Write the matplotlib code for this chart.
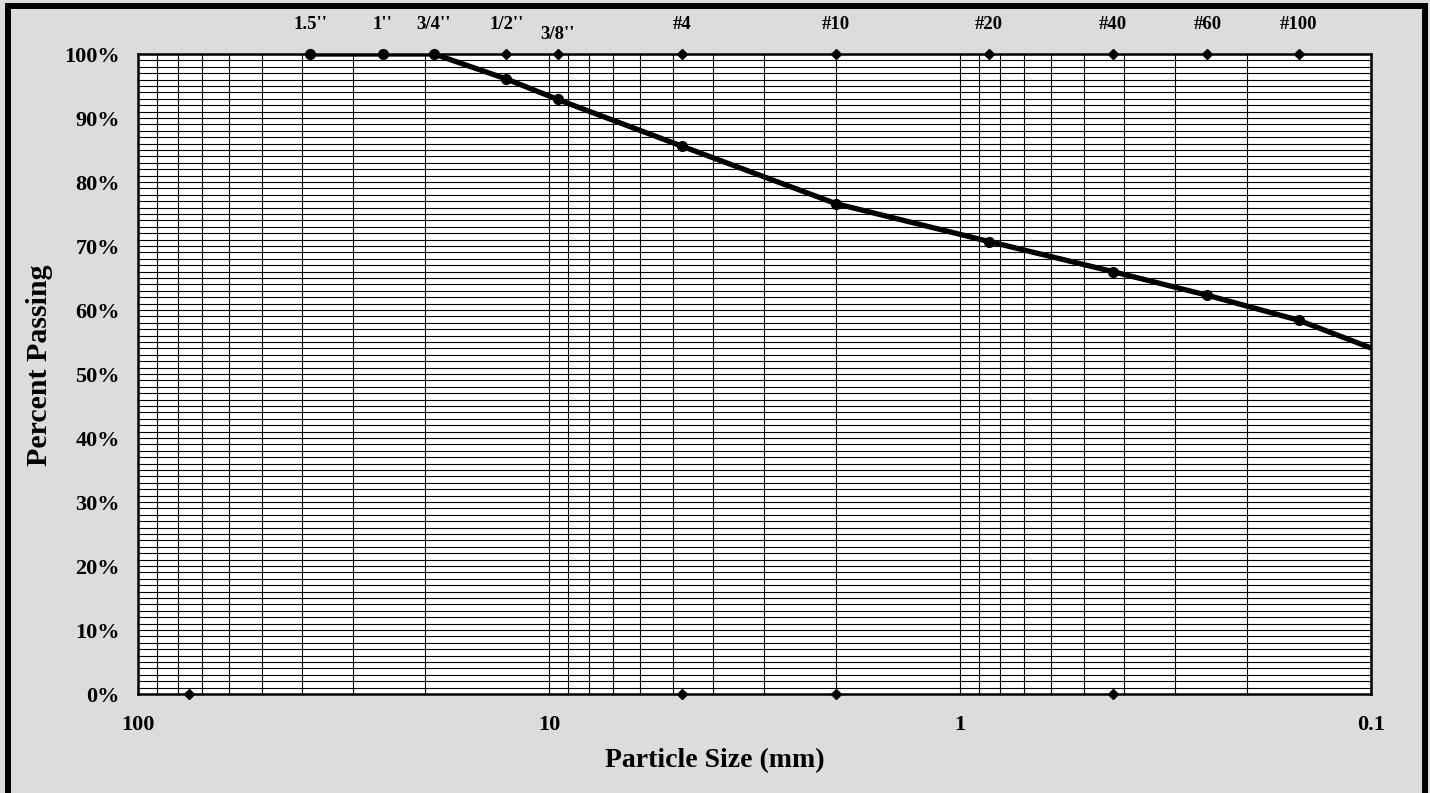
import numpy as np
import matplotlib
matplotlib.use('Agg')
import matplotlib.pyplot as plt
from matplotlib.ticker import MultipleLocator, LogLocator, NullFormatter
from matplotlib.patches import Rectangle

# sieve sizes (mm) and labels
sieve_names = ["1.5''", "1''", "3/4''", "1/2''", "3/8''", "#4", "#10", "#20", "#40", "#60", "#100"]
sieve_mm = [38.1, 25.4, 19.05, 12.7, 9.525, 4.75, 2.0, 0.85, 0.425, 0.25, 0.15]

# gradation test data (last point #200 falls outside the axis)
grad_mm = [38.1, 25.4, 19.05, 12.7, 9.525, 4.75, 2.0, 0.85, 0.425, 0.25, 0.15, 0.075]
passing = [100, 100, 100, 96.1, 92.9, 85.6, 76.6, 70.7, 66.0, 62.3, 58.4, 51.0]

# soil class boundaries on the bottom axis
boundary_mm = [75, 4.75, 2.0, 0.425]

x_ticks = [100, 10, 1, 0.1]
x_tick_labels = ['100', '10', '1', '0.1']

plt.rcParams['font.family'] = ['Liberation Serif', 'DejaVu Serif']
plt.rcParams['font.weight'] = 'bold'

W, H = 1430, 793
bg = '#dcdcdc'
fig = plt.figure(figsize=(W/100, H/100), dpi=100, facecolor=bg)
ax = fig.add_axes([138/W, (H-694)/H, (1371-138)/W, 640/H])
ax.set_facecolor('white')

ax.set_xscale('log')
ax.set_xlim(100, 0.1)
ax.set_ylim(0, 100)

ax.yaxis.set_major_locator(MultipleLocator(10))
ax.yaxis.set_minor_locator(MultipleLocator(1))
ax.set_yticks(np.arange(0, 101, 10))
ax.set_yticklabels([f'{v}%' for v in range(0, 101, 10)])
ax.set_xticks(x_ticks)
ax.set_xticklabels(x_tick_labels)
ax.xaxis.set_minor_locator(LogLocator(base=10, subs=np.arange(2, 10), numticks=20))
ax.xaxis.set_minor_formatter(NullFormatter())

ax.grid(True, which='both', color='black', lw=0.8)
ax.set_axisbelow(True)
ax.tick_params(which='both', length=0)
ax.tick_params(axis='y', labelsize=16, pad=13)
ax.tick_params(axis='x', labelsize=16, pad=15)
for lab in ax.get_xticklabels() + ax.get_yticklabels():
    lab.set_fontweight('bold')
for s in ax.spines.values():
    s.set_linewidth(1.8)
    s.set_zorder(5)

# gradation curve
ax.plot(grad_mm, passing, color='black', lw=3.8, zorder=6)
inside = [i for i, d in enumerate(grad_mm) if d >= 0.1]
ax.plot([grad_mm[i] for i in inside], [passing[i] for i in inside], 'o',
        color='black', ms=7, clip_on=False, zorder=7)

# sieve markers and labels on the top
ax.plot(sieve_mm, [100]*len(sieve_mm), 'D', color='black', ms=5, clip_on=False, zorder=7)
for name, d in zip(sieve_names, sieve_mm):
    off = 14 if name == "3/8''" else 21.5
    ax.annotate(name, (d, 100), xytext=(0, off), textcoords='offset points',
                ha='center', va='center', fontsize=13.5, fontweight='bold')

# boundaries on the bottom
ax.plot(boundary_mm, [0]*len(boundary_mm), 'D', color='black', ms=5, clip_on=False, zorder=7)

ax.set_xlabel('Particle Size (mm)', fontsize=20, fontweight='bold')
ax.xaxis.set_label_coords((715-138)/1233, -(761-694)/640)
ax.xaxis.label.set_va('center')
ax.set_ylabel('Percent Passing', fontsize=21.5, fontweight='bold')
ax.yaxis.set_label_coords(-(138-40)/1233, (694-365)/640)
ax.yaxis.label.set_va('center')

# outer frame
fig.patches.append(Rectangle((7.5/W, -0.05), (1425-7.5)/W, 1.05 - 6/H,
                             transform=fig.transFigure, fill=False,
                             edgecolor='black', lw=4.3))

fig.savefig('out.png', dpi=100, facecolor=bg)
